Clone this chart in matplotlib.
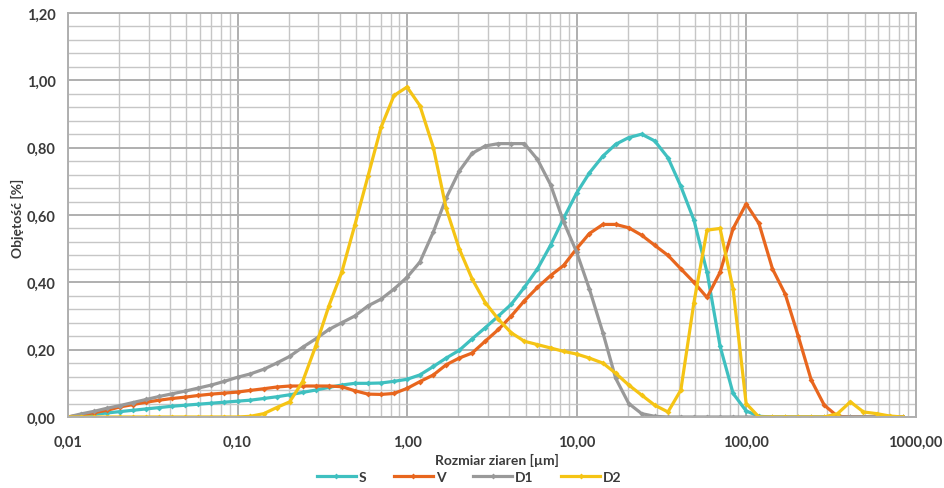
import matplotlib
matplotlib.use("Agg")
import matplotlib.pyplot as plt
from matplotlib.ticker import FixedLocator, FuncFormatter, LogLocator, MultipleLocator

plt.rcParams['font.family'] = ['Lato', 'DejaVu Sans']

# grain sizes [um], 13 bins per decade
sizes = [0.0100, 0.0119, 0.0143, 0.0170, 0.0203, 0.0242, 0.0289, 0.0346, 0.0412, 0.0492,
         0.0588, 0.0702, 0.0838, 0.100, 0.119, 0.143, 0.170, 0.203, 0.242, 0.289,
         0.346, 0.412, 0.492, 0.588, 0.702, 0.838, 1.00, 1.19, 1.43, 1.70,
         2.03, 2.42, 2.89, 3.46, 4.12, 4.92, 5.88, 7.02, 8.38, 10.0,
         11.9, 14.3, 17.0, 20.3, 24.2, 28.9, 34.6, 41.2, 49.2, 58.8,
         70.2, 83.8, 100.0, 119.0, 143.0, 170.0, 203.0, 242.0, 289.0, 346.0,
         412.0, 492.0, 588.0, 702.0, 838.0]

S = [0, 0.004, 0.008, 0.012, 0.016, 0.020, 0.024, 0.028, 0.032, 0.035,
     0.038, 0.041, 0.044, 0.047, 0.050, 0.055, 0.060, 0.066, 0.073, 0.080,
     0.088, 0.095, 0.100, 0.100, 0.101, 0.106, 0.112, 0.125, 0.150, 0.175,
     0.198, 0.232, 0.265, 0.300, 0.335, 0.385, 0.440, 0.510, 0.590, 0.665,
     0.725, 0.775, 0.810, 0.830, 0.840, 0.820, 0.770, 0.685, 0.585, 0.430,
     0.210, 0.070, 0.018, 0.002, 0, 0, 0, 0, 0, 0,
     0, 0, 0, 0, 0]

V = [0, 0.006, 0.013, 0.020, 0.030, 0.037, 0.044, 0.050, 0.055, 0.059,
     0.064, 0.068, 0.071, 0.074, 0.079, 0.084, 0.089, 0.092, 0.092, 0.092,
     0.092, 0.090, 0.078, 0.068, 0.067, 0.070, 0.085, 0.105, 0.125, 0.155,
     0.175, 0.190, 0.225, 0.260, 0.300, 0.345, 0.385, 0.420, 0.450, 0.500,
     0.545, 0.572, 0.572, 0.562, 0.540, 0.510, 0.480, 0.440, 0.400, 0.355,
     0.430, 0.560, 0.633, 0.575, 0.440, 0.365, 0.240, 0.110, 0.035, 0.002,
     0, 0, 0, 0, 0]

D1 = [0, 0.009, 0.017, 0.026, 0.034, 0.043, 0.052, 0.061, 0.069, 0.077,
      0.086, 0.095, 0.106, 0.118, 0.128, 0.142, 0.160, 0.180, 0.207, 0.232,
      0.260, 0.280, 0.300, 0.330, 0.350, 0.380, 0.415, 0.460, 0.550, 0.650,
      0.730, 0.783, 0.805, 0.812, 0.812, 0.812, 0.765, 0.690, 0.580, 0.490,
      0.380, 0.250, 0.115, 0.040, 0.010, 0.002, 0, 0, 0, 0,
      0, 0, 0, 0, 0, 0, 0, 0, 0, 0,
      0, 0, 0, 0, 0]

D2 = [0, 0, 0, 0, 0, 0, 0, 0, 0, 0,
      0, 0, 0, 0, 0.002, 0.010, 0.028, 0.045, 0.105, 0.210,
      0.330, 0.430, 0.570, 0.715, 0.860, 0.955, 0.980, 0.925, 0.800, 0.620,
      0.500, 0.410, 0.340, 0.290, 0.250, 0.225, 0.215, 0.205, 0.195, 0.187,
      0.175, 0.160, 0.130, 0.095, 0.065, 0.035, 0.015, 0.080, 0.340, 0.555,
      0.560, 0.380, 0.040, 0, 0, 0, 0, 0, 0, 0.010,
      0.045, 0.015, 0.010, 0.003, 0]

series = [('S', S, '#3fc0c0'), ('V', V, '#e8661e'), ('D1', D1, '#999999'), ('D2', D2, '#f5c414')]

fig = plt.figure(figsize=(9.44, 4.89), dpi=100)
ax = fig.add_axes([0.072, 0.1452, 0.898, 0.8262])

for name, vals, col in series:
    ax.plot(sizes, vals, color=col, lw=2.3, marker='D', markersize=3.0,
            markeredgewidth=0, label=name, solid_joinstyle='round')

ax.set_xscale('log')
ax.set_xlim(0.01, 1000)
ax.set_ylim(0, 1.2)

ax.xaxis.set_major_locator(FixedLocator([0.01, 0.1, 1, 10, 100, 1000]))
ax.xaxis.set_minor_locator(LogLocator(base=10, subs=range(2, 10), numticks=20))
ax.yaxis.set_major_locator(MultipleLocator(0.2))
ax.yaxis.set_minor_locator(MultipleLocator(0.04))

fmt = FuncFormatter(lambda v, p: f"{v:.2f}".replace('.', ','))
ax.xaxis.set_major_formatter(fmt)
ax.yaxis.set_major_formatter(fmt)
ax.xaxis.set_minor_formatter(FuncFormatter(lambda v, p: ''))

ax.grid(True, which='major', color='#afafaf', lw=1.4)
ax.grid(True, which='minor', color='#c6c6c6', lw=1.0)
ax.set_axisbelow(True)
for sp in ax.spines.values():
    sp.set_color('#afafaf')
    sp.set_linewidth(1.4)

ax.tick_params(which='both', length=0)
ax.tick_params(axis='x', pad=13)
ax.tick_params(axis='y', pad=9)
for lab in ax.get_xticklabels() + ax.get_yticklabels():
    lab.set_fontsize(10.5)
    lab.set_fontweight('bold')
    lab.set_color('#3a3a3a')

ax.set_xlabel('Rozmiar ziaren [µm]', fontsize=10, fontweight='bold', color='#3a3a3a')
ax.xaxis.set_label_coords(0.506, -0.105)
ax.xaxis.label.set_va('center')
ax.set_ylabel('Objętość [%]', fontsize=10, fontweight='bold', color='#3a3a3a')
ax.yaxis.set_label_coords(-0.060, 0.493)
ax.yaxis.label.set_va('center')

fig.legend(loc='center', bbox_to_anchor=(0.497, 1 - 478 / 489), ncol=4, frameon=False,
           handlelength=2.8, columnspacing=2.0, handletextpad=0.2, borderpad=0.1,
           prop={'weight': 'bold', 'size': 10})
for t in fig.legends[0].get_texts():
    t.set_color('#3a3a3a')

fig.savefig('out.png', dpi=100, facecolor='white')
